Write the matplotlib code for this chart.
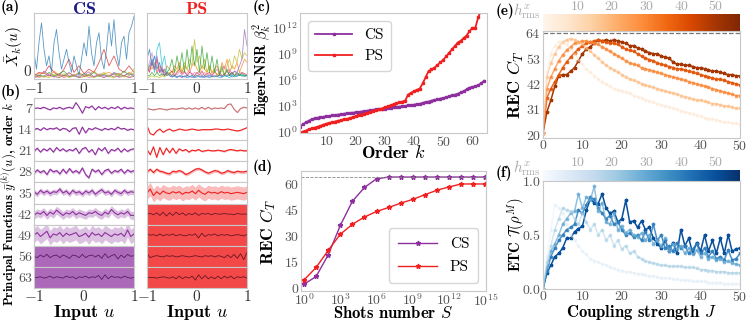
import numpy as np
import matplotlib
matplotlib.use("Agg")
import matplotlib.pyplot as plt
from matplotlib import colors
from matplotlib.cm import ScalarMappable

# ---------------- data ----------------
# (a) squared principal functions, CS and PS
xa41 = np.linspace(-1, 1, 41)
xa21 = np.linspace(-1, 1, 21)
cs_blue = [0.40, 0.15, 0.55, 0.85, 0.45, 0.20, 0.35, 0.10, 0.55, 0.75, 0.40, 0.15, 0.30, 0.45, 0.25, 0.10,
           0.35, 0.20, 0.05, 0.30, 0.55, 0.35, 0.80, 0.40, 0.20, 0.55, 0.70, 0.30, 0.15, 0.45, 0.85, 0.50,
           0.90, 0.40, 0.20, 0.55, 0.65, 0.30, 0.70, 0.80, 0.95]
cs_red = [0.05, 0.10, 0.08, 0.20, 0.10, 0.05, 0.15, 0.30, 0.10, 0.20, 0.08, 0.15, 0.10, 0.25, 0.45, 0.20,
          0.35, 0.15, 0.10, 0.20, 0.10]
cs_orange = [0.05, 0.08, 0.10, 0.04, 0.12, 0.06, 0.03, 0.09, 0.05, 0.10, 0.04, 0.07, 0.12, 0.05, 0.08, 0.10,
             0.06, 0.09, 0.04, 0.10, 0.06]
cs_green = [0.03, 0.06, 0.04, 0.10, 0.05, 0.08, 0.12, 0.04, 0.06, 0.03, 0.08, 0.05, 0.10, 0.04, 0.07, 0.03,
            0.09, 0.05, 0.12, 0.06, 0.08]
cs_purple = [0.08, 0.04, 0.12, 0.06, 0.03, 0.07, 0.05, 0.10, 0.04, 0.08, 0.06, 0.11, 0.03, 0.07, 0.05, 0.04,
             0.10, 0.07, 0.05, 0.09, 0.04]
cs_brown = [0.02, 0.05, 0.03, 0.06, 0.04, 0.02, 0.06, 0.03, 0.05, 0.02, 0.04, 0.06, 0.03, 0.05, 0.02, 0.06,
            0.03, 0.04, 0.05, 0.02, 0.04]
cs_pink = [0.04, 0.02, 0.05, 0.08, 0.03, 0.06, 0.02, 0.05, 0.07, 0.03, 0.06, 0.02, 0.04, 0.08, 0.03, 0.05,
           0.07, 0.02, 0.05, 0.03, 0.06]
cs_olive = [0.06, 0.03, 0.04, 0.02, 0.07, 0.04, 0.08, 0.02, 0.05, 0.09, 0.03, 0.05, 0.02, 0.06, 0.10, 0.04,
            0.02, 0.08, 0.03, 0.05, 0.15]

ps_green = [0.05, 0.05, 0.10, 0.05, 0.10, 0.05, 0.08, 0.05, 0.10, 0.15, 0.30, 0.10, 0.35, 0.15, 0.40, 0.10,
            0.45, 0.15, 0.50, 0.20, 0.45, 0.10, 0.50, 0.15, 0.40, 0.10, 0.35, 0.10, 0.30, 0.05, 0.20, 0.05,
            0.15, 0.05, 0.10, 0.05, 0.10, 0.05, 0.08, 0.05, 0.05]
ps_olive = [0.02, 0.03, 0.05, 0.03, 0.04, 0.02, 0.05, 0.03, 0.06, 0.10, 0.05, 0.15, 0.10, 0.20, 0.10, 0.25,
            0.15, 0.30, 0.20, 0.60, 0.25, 0.35, 0.15, 0.30, 0.10, 0.20, 0.08, 0.15, 0.05, 0.10, 0.15, 0.05,
            0.20, 0.30, 0.15, 0.35, 0.25, 0.45, 0.30, 0.40, 0.35]
ps_purple = [0.10, 0.15, 0.30, 0.15, 0.35, 0.10, 0.20, 0.05, 0.10, 0.05, 0.03, 0.05, 0.03, 0.04, 0.02, 0.05,
             0.03, 0.04, 0.02, 0.03, 0.05, 0.03, 0.04, 0.02, 0.05, 0.03, 0.04, 0.05, 0.03, 0.06, 0.04, 0.08,
             0.05, 0.10, 0.06, 0.12, 0.10, 0.20, 0.30, 0.75, 0.50]
ps_cyan = [0.15, 0.20, 0.30, 0.10, 0.45, 0.55, 0.20, 0.35, 0.10, 0.05, 0.03, 0.04, 0.02, 0.05, 0.03, 0.04,
           0.02, 0.03, 0.05, 0.02, 0.03, 0.04, 0.02, 0.05, 0.03, 0.02, 0.04, 0.03, 0.05, 0.02, 0.03, 0.05,
           0.04, 0.02, 0.06, 0.03, 0.05, 0.08, 0.04, 0.06, 0.05]
ps_blue = [0.30, 0.45, 0.20, 0.35, 0.15, 0.25, 0.10, 0.15, 0.05, 0.08, 0.04, 0.06, 0.03, 0.05, 0.04, 0.03,
           0.06, 0.04, 0.05, 0.03, 0.06, 0.04, 0.05, 0.03, 0.04, 0.06, 0.03, 0.05, 0.04, 0.06, 0.03, 0.05,
           0.04, 0.06, 0.03, 0.05, 0.04, 0.06, 0.05, 0.04, 0.05]
ps_orange = [0.10, 0.20, 0.15, 0.25, 0.10, 0.20, 0.15, 0.10, 0.20, 0.15, 0.10, 0.20, 0.15, 0.25, 0.10, 0.20,
             0.15, 0.10, 0.20, 0.25, 0.15, 0.10, 0.20, 0.15, 0.10, 0.20, 0.10, 0.15, 0.20, 0.10, 0.25, 0.15,
             0.30, 0.10, 0.20, 0.15, 0.25, 0.10, 0.20, 0.30, 0.25]
ps_pink = [0.15, 0.25, 0.40, 0.20, 0.10, 0.15, 0.05, 0.10, 0.05, 0.08, 0.05, 0.10, 0.06, 0.12, 0.05, 0.10,
           0.08, 0.15, 0.05, 0.10, 0.08, 0.12, 0.05, 0.10, 0.06, 0.08, 0.05, 0.10, 0.15, 0.08, 0.12, 0.20,
           0.10, 0.15, 0.08, 0.12, 0.05, 0.10, 0.08, 0.06, 0.05]
ps_red = [0.20, 0.10, 0.25, 0.15, 0.30, 0.10, 0.15, 0.05, 0.10, 0.08, 0.12, 0.05, 0.10, 0.15, 0.08, 0.12,
          0.05, 0.10, 0.08, 0.05, 0.10, 0.06, 0.12, 0.05, 0.08, 0.10, 0.05, 0.12, 0.06, 0.10, 0.05, 0.08,
          0.12, 0.06, 0.10, 0.05, 0.08, 0.06, 0.10, 0.08, 0.06]

# (b) principal functions for orders k
orders = [7, 14, 21, 28, 35, 42, 49, 56, 63]
xb = np.linspace(-1, 1, 32)
cs_rows = [
    [0.0, 0.05, 0.0, 0.1, 0.0, -0.1, 0.05, 0.0, 0.1, -0.05, 0.05, 0.1, 0.0, 0.45, 0.1, -0.35, 0.15, 0.05, 0.2, -0.1, 0.15, 0.0, 0.1, -0.05, 0.1, 0.0, 0.15, -0.05, 0.1, 0.0, 0.05, 0.0],
    [0.0, 0.1, -0.05, 0.15, 0.0, 0.1, 0.05, 0.15, -0.05, 0.1, 0.05, -0.15, 0.1, 0.15, -0.35, 0.2, -0.25, 0.1, 0.0, 0.15, 0.05, -0.05, 0.1, 0.0, 0.1, 0.0, 0.2, 0.05, 0.1, -0.05, 0.05, 0.0],
    [-0.05, 0.2, -0.1, 0.15, 0.0, 0.2, -0.1, 0.25, 0.0, 0.15, -0.05, 0.1, 0.0, 0.2, -0.2, 0.15, 0.25, -0.1, 0.1, -0.3, 0.2, 0.0, 0.25, -0.2, 0.1, 0.0, 0.2, -0.1, 0.15, -0.05, 0.1, 0.15],
    [-0.1, 0.15, -0.05, 0.1, -0.2, 0.2, 0.0, 0.1, -0.15, 0.2, -0.1, 0.25, -0.05, 0.1, -0.1, 0.3, -0.2, -0.45, 0.2, 0.0, 0.15, -0.2, 0.1, 0.2, -0.1, 0.1, 0.0, 0.2, -0.1, 0.15, 0.0, 0.1],
    [0.1, -0.1, 0.2, 0.0, 0.15, -0.05, 0.1, 0.05, 0.3, 0.0, 0.15, -0.1, 0.2, 0.0, 0.1, -0.1, 0.15, 0.0, 0.2, -0.1, 0.1, 0.25, 0.0, 0.1, -0.1, 0.2, 0.05, -0.05, 0.2, 0.0, 0.1, 0.05],
    [-0.1, 0.1, 0.0, 0.2, -0.1, 0.15, 0.0, 0.3, 0.1, -0.1, 0.1, 0.0, 0.2, -0.05, 0.1, 0.0, -0.1, 0.1, 0.05, 0.2, 0.0, -0.1, 0.15, 0.0, 0.35, 0.1, -0.05, 0.1, 0.0, 0.2, -0.1, -0.1],
    [0.0, 0.2, -0.1, 0.1, 0.3, -0.2, 0.1, 0.0, 0.2, -0.1, 0.15, 0.0, 0.1, 0.2, -0.1, 0.0, 0.15, -0.15, 0.2, 0.0, 0.1, -0.1, 0.2, 0.05, -0.1, 0.1, 0.0, 0.15, -0.1, 0.4, -0.1, 0.1],
    [0.0, -0.1, 0.1, -0.05, 0.15, -0.1, 0.05, 0.1, -0.1, 0.1, 0.0, -0.15, 0.1, 0.05, -0.1, 0.15, -0.1, 0.05, 0.1, -0.05, 0.1, -0.15, 0.2, -0.1, 0.05, 0.15, -0.2, 0.1, -0.1, 0.15, 0.0, 0.05],
    [0.0, 0.0, 0.05, -0.05, 0.0, 0.1, -0.05, 0.05, 0.0, -0.05, 0.1, 0.0, 0.05, -0.1, 0.05, 0.0, 0.1, -0.05, 0.05, 0.0, 0.15, -0.15, 0.2, -0.1, 0.1, 0.0, 0.05, -0.05, 0.1, 0.0, -0.05, 0.0],
]
ps_rows = [
    [0.0, -0.05, -0.1, -0.05, 0.0, -0.05, -0.1, -0.05, 0.0, -0.05, 0.0, 0.05, -0.05, 0.05, -0.05, 0.05, -0.05, 0.1, -0.05, 0.1, -0.05, 0.05, 0.0, 0.05, 0.0, 0.3, 0.35, -0.05, -0.3, 0.0, 0.1, 0.05],
    [0.3, -0.3, -0.4, -0.1, 0.05, -0.2, -0.05, 0.05, -0.1, -0.05, 0.05, 0.0, -0.05, 0.0, 0.05, 0.0, -0.05, 0.0, 0.0, 0.0, 0.0, 0.05, 0.05, 0.0, 0.0, 0.05, 0.0, -0.05, -0.1, -0.05, 0.05, 0.15],
    [0.1, -0.3, 0.3, -0.5, 0.25, -0.3, 0.2, -0.15, 0.2, -0.2, 0.15, 0.0, 0.1, -0.1, 0.05, 0.0, 0.1, -0.05, 0.0, 0.05, 0.0, 0.0, 0.05, 0.0, -0.05, 0.05, 0.1, 0.05, 0.0, 0.05, 0.0, 0.0],
    [0.0, 0.2, -0.05, 0.2, 0.05, 0.0, -0.1, -0.15, 0.05, 0.0, 0.1, 0.0, -0.2, -0.1, 0.05, 0.2, 0.25, 0.15, 0.0, -0.1, 0.0, 0.1, 0.05, -0.1, -0.05, 0.1, 0.0, -0.05, 0.05, 0.0, 0.0, 0.05],
    [0.0, 0.3, -0.2, 0.1, -0.1, 0.15, 0.0, -0.05, 0.1, 0.0, 0.1, -0.1, 0.05, 0.0, 0.15, -0.05, 0.2, 0.0, -0.1, 0.1, 0.0, 0.05, -0.05, 0.1, 0.0, 0.05, -0.05, 0.0, 0.05, 0.0, -0.05, 0.05],
    [0.0, 0.05, -0.05, 0.1, -0.1, 0.15, -0.15, 0.1, -0.1, 0.15, -0.05, 0.1, -0.1, 0.05, -0.05, 0.1, -0.1, 0.05, 0.0, 0.05, -0.05, 0.05, 0.0, 0.0, 0.05, 0.0, 0.0, -0.05, 0.05, 0.0, 0.0, 0.0],
    [0.1, 0.0, 0.05, -0.05, 0.1, -0.05, 0.05, 0.0, 0.1, -0.05, 0.05, 0.0, -0.05, 0.05, 0.0, 0.1, -0.2, 0.15, -0.1, 0.05, 0.0, 0.1, -0.05, 0.05, 0.0, 0.05, -0.05, 0.0, 0.05, 0.0, -0.05, 0.05],
    [0.2, -0.1, 0.0, 0.05, 0.0, -0.05, 0.05, 0.0, 0.05, -0.05, 0.0, 0.05, 0.0, -0.05, 0.0, 0.05, 0.0, -0.05, 0.05, 0.0, 0.05, -0.05, 0.05, 0.0, -0.1, 0.1, -0.1, 0.15, -0.15, 0.2, -0.25, 0.3],
    [0.0, 0.0, 0.0, -0.05, 0.0, 0.05, 0.0, -0.05, 0.05, -0.1, 0.1, -0.1, 0.05, -0.05, 0.1, -0.2, 0.2, -0.1, 0.15, -0.1, 0.05, -0.1, 0.1, -0.1, 0.1, -0.05, 0.1, -0.1, 0.05, 0.0, 0.05, -0.05],
]
cs_spread = [0.04, 0.05, 0.07, 0.12, 0.2, 0.3, 0.55, 1.0, 1.0]
ps_spread = [0.02, 0.03, 0.06, 0.12, 0.5, 1.0, 1.0, 1.0, 1.0]

# (c) eigen noise-to-signal ratios (log10)
order_k = np.arange(1, 65)
nsr_cs_log = [0.6, 0.9, 1.1, 1.3, 1.45, 1.55, 1.65, 1.7, 1.75, 1.8, 1.85, 1.9, 1.95, 2.0, 2.05, 2.1,
              2.15, 2.2, 2.22, 2.25, 2.3, 2.35, 2.4, 2.45, 2.5, 2.55, 2.6, 2.62, 2.65, 2.7, 2.75, 2.8,
              2.85, 2.9, 2.92, 2.95, 3.0, 3.05, 3.1, 3.15, 3.2, 3.25, 3.35, 3.45, 3.5, 3.6, 3.7, 3.75,
              3.85, 3.9, 4.0, 4.1, 4.2, 4.3, 4.4, 4.55, 4.7, 4.9, 5.1, 5.2, 5.25, 5.4, 5.6, 5.9]
nsr_ps_log = [-0.1, 0.05, 0.15, 0.3, 0.4, 0.5, 0.6, 0.7, 0.85, 0.95, 1.05, 1.1, 1.2, 1.3, 1.35, 1.45,
              1.5, 1.6, 1.7, 1.8, 1.9, 2.0, 2.1, 2.2, 2.3, 2.4, 2.5, 2.6, 2.7, 2.85, 2.95, 3.05,
              3.2, 3.3, 3.4, 3.5, 3.6, 4.3, 4.5, 4.7, 4.85, 5.0, 5.6, 6.3, 7.0, 7.2, 7.4, 7.7,
              8.0, 8.3, 8.7, 9.1, 9.5, 9.9, 10.3, 10.5, 10.8, 11.1, 11.6, 12.0, 12.0, 13.2, 14.0, 14.8]

# (d) REC vs shots
shots = [1e0, 1e1, 1e2, 1e3, 1e4, 1e5, 1e6, 1e7, 1e8, 1e9, 1e10, 1e11, 1e12, 1e13, 1e14, 1e15]
rec_cs = [2, 6.5, 19, 36, 50, 58, 63, 64, 64, 64, 64, 64, 64, 64, 64, 64]
rec_ps = [4.5, 11.7, 21.6, 30.9, 36.7, 40.9, 44.1, 46.4, 48.9, 51.1, 53.8, 56.4, 58.3, 60, 60, 60]

# (e) REC vs coupling J, for several h_rms
J = np.arange(0, 51)
h_rms = [50, 40, 30, 20, 9]
rec_J = [
    [21, 30, 35, 41, 45.5, 46, 46, 47.5, 49, 52, 55, 57, 58, 59.5, 61, 60.5, 61, 60.5, 61, 60.5, 60, 59.5, 58.5,
     58.5, 57.5, 57, 56, 55.5, 55, 55, 54, 53.5, 53, 51.5, 50.5, 50.5, 50, 50, 49.5, 49, 49, 48.5, 48, 47.5,
     47.5, 47, 46.5, 46, 46, 45.5, 45.5],
    [21, 36, 40, 43, 46, 49, 51.5, 53.5, 55.5, 57, 58.5, 59.5, 60, 60.5, 61, 60.5, 60, 59.5, 59.5, 59, 58, 57,
     56.5, 56, 55, 54, 53, 52.5, 52, 51, 50.5, 50, 49.5, 49, 48.5, 48.5, 48, 47.5, 47, 46.5, 46, 45.5, 45,
     44.5, 44, 44, 43.5, 43, 42.5, 42, 41.5],
    [21, 40, 45, 48.5, 52, 54.5, 56.5, 58, 59.5, 60, 60.5, 60.5, 60, 59.5, 59, 58, 57, 56, 55, 54, 53, 52, 51,
     50.5, 50, 49, 48.5, 48, 47.5, 47, 46.5, 46, 45.5, 45, 44.5, 44, 43.5, 43, 42.5, 42, 41.5, 41, 40.5, 40,
     39.5, 39, 38.5, 38, 37.5, 37, 37],
    [21, 45, 51, 55, 58, 60, 61, 61.5, 61, 60, 59, 57.5, 56, 54.5, 53, 51.5, 50, 49, 48, 47, 46, 45, 44, 43.5,
     43, 42, 41.5, 41, 40.5, 40, 39.5, 39, 38.5, 38, 37.5, 37, 36.5, 36, 35.5, 35, 35, 34.5, 34, 33.5, 33.5,
     33, 32.5, 32.5, 32, 31.5, 31.5],
    [21, 47, 55, 58.5, 60, 60, 59, 57, 55, 52.5, 50.5, 48.5, 47, 45.5, 44, 43, 42, 41, 40, 39.5, 39, 38.5, 38,
     37, 36.5, 36, 35, 34.5, 34, 33.5, 33, 32.5, 32, 31.5, 31, 30.5, 30, 29.5, 29, 28.5, 28, 27.5, 27, 27,
     26.5, 26, 25.5, 25.5, 25, 25, 24.5],
]

# (f) ETC vs coupling J
etc_J = [
    [0.0, 0.15, 0.22, 0.3, 0.33, 0.38, 0.47, 0.47, 0.53, 0.56, 0.58, 0.73, 0.83, 0.8, 0.79, 0.88, 0.75, 0.7,
     0.72, 0.62, 0.65, 0.82, 0.62, 0.63, 0.57, 0.63, 0.55, 0.57, 0.47, 0.42, 0.38, 0.45, 0.35, 0.43, 0.33,
     0.55, 0.4, 0.47, 0.33, 0.43, 0.35, 0.5, 0.35, 0.45, 0.33, 0.47, 0.33, 0.5, 0.35, 0.37, 0.38],
    [0.0, 0.17, 0.3, 0.38, 0.45, 0.5, 0.55, 0.57, 0.6, 0.73, 0.7, 0.78, 0.85, 0.83, 0.75, 0.7, 0.65, 0.68,
     0.6, 0.62, 0.55, 0.5, 0.52, 0.48, 0.5, 0.45, 0.53, 0.45, 0.6, 0.45, 0.5, 0.38, 0.4, 0.35, 0.43, 0.38,
     0.4, 0.33, 0.37, 0.42, 0.33, 0.38, 0.3, 0.35, 0.28, 0.3, 0.27, 0.36, 0.27, 0.28, 0.33],
    [0.0, 0.2, 0.35, 0.42, 0.5, 0.6, 0.65, 0.7, 0.72, 0.88, 0.75, 0.85, 0.82, 0.95, 0.72, 0.8, 0.62, 0.6,
     0.7, 0.55, 0.58, 0.52, 0.55, 0.5, 0.48, 0.52, 0.45, 0.5, 0.42, 0.45, 0.4, 0.47, 0.35, 0.42, 0.37, 0.4,
     0.33, 0.38, 0.32, 0.36, 0.3, 0.33, 0.28, 0.3, 0.27, 0.28, 0.25, 0.26, 0.24, 0.23, 0.22],
    [0.0, 0.25, 0.4, 0.55, 0.65, 0.75, 0.73, 0.72, 0.65, 0.6, 0.7, 0.62, 0.55, 0.6, 0.5, 0.55, 0.45, 0.5,
     0.4, 0.45, 0.37, 0.4, 0.33, 0.35, 0.3, 0.28, 0.26, 0.25, 0.24, 0.23, 0.22, 0.22, 0.21, 0.21, 0.21, 0.21,
     0.2, 0.2, 0.2, 0.19, 0.18, 0.18, 0.17, 0.17, 0.16, 0.16, 0.16, 0.15, 0.15, 0.15, 0.15],
    [0.0, 0.3, 0.55, 0.78, 0.75, 0.7, 0.6, 0.5, 0.45, 0.4, 0.35, 0.32, 0.28, 0.26, 0.25, 0.23, 0.22, 0.2,
     0.19, 0.18, 0.17, 0.16, 0.16, 0.15, 0.14, 0.14, 0.13, 0.12, 0.12, 0.11, 0.1, 0.1, 0.1, 0.09, 0.09, 0.08,
     0.08, 0.08, 0.07, 0.07, 0.07, 0.07, 0.06, 0.06, 0.06, 0.06, 0.05, 0.05, 0.05, 0.05, 0.05],
]
line_alpha = [1.0, 0.85, 0.7, 0.5, 0.3]

# ---------------- style ----------------
plt.rcParams.update({
    'font.family': 'serif', 'font.serif': ['cmr10'], 'mathtext.fontset': 'cm',
    'axes.formatter.use_mathtext': True, 'font.size': 10,
    'axes.edgecolor': '#c8c8c8', 'axes.linewidth': 0.8,
    'xtick.color': '#555555', 'ytick.color': '#555555',
    'xtick.labelsize': 10, 'ytick.labelsize': 10,
    'xtick.major.size': 0, 'ytick.major.size': 0,
    'xtick.minor.size': 0, 'ytick.minor.size': 0,
    'xtick.major.pad': 1.5, 'ytick.major.pad': 1.5,
})
BOLD = 'cmb10'
CS_COL = '#8e2f9e'
PS_COL = '#f02020'

W, H = 748, 321
fig = plt.figure(figsize=(W / 100, H / 100), dpi=100)


def box(l, t, r, b):
    return [l / W, 1 - b / H, (r - l) / W, (b - t) / H]


def ftext(x, y, s, **kw):
    fig.text(x / W, 1 - y / H, s, **kw)


# ---------------- (a) ----------------
for (l, r, curves41, curves21) in [
        (34, 134, [(cs_blue, 'tab:blue')], [(cs_red, 'tab:red'), (cs_orange, 'tab:orange'),
                                            (cs_green, 'tab:green'), (cs_purple, 'tab:purple'),
                                            (cs_brown, 'tab:brown'), (cs_pink, 'tab:pink'),
                                            (cs_olive, 'tab:olive')]),
        (147, 247, [(ps_orange, 'tab:orange'), (ps_red, 'tab:red'), (ps_pink, 'tab:pink'),
                    (ps_blue, 'tab:blue'), (ps_cyan, 'tab:cyan'), (ps_olive, 'tab:olive'),
                    (ps_purple, 'tab:purple'), (ps_green, 'tab:green')], [])]:
    ax = fig.add_axes(box(l, 13, r, 79))
    for vals, c in curves21:
        ax.plot(xa21, vals, color=c, lw=0.6, alpha=0.75)
    for vals, c in curves41:
        ax.plot(xa41, vals, color=c, lw=0.6, alpha=0.75)
    ax.set_xlim(-1, 1)
    ax.set_ylim(0, 1.0)
    ax.set_xticks([-1, 0, 1])
    if l == 34:
        ax.set_yticks([0])
        for t in ax.get_yticklabels():
            t.set_va('bottom')
    else:
        ax.set_yticks([])
    ax.tick_params(colors='#333333', labelsize=11)

# ---------------- (b) ----------------
row_top, row_bot = 98, 288
row_h = (row_bot - row_top) / len(orders)
for col, (l, r, rows, spreads, base) in enumerate([(34, 134, cs_rows, cs_spread, CS_COL),
                                                    (147, 247, ps_rows, ps_spread, PS_COL)]):
    for i, k in enumerate(orders):
        ax = fig.add_axes(box(l, row_top + i * row_h, r, row_top + (i + 1) * row_h))
        y = np.array(rows[i])
        s = spreads[i]
        if s >= 1.0:
            ax.axhspan(-1, 1, color=base, alpha=0.82 if col == 1 else 0.72, lw=0)
            lc = '#5a1020' if col == 1 else '#4a1555'
            ax.plot(xb, y, color=lc, lw=0.6, alpha=0.9)
        else:
            ax.fill_between(xb, y - s, y + s, color=base, alpha=0.3, lw=0)
            lc = base if not (col == 1 and i == 0) else '#c87070'
            ax.plot(xb, y, color=lc, lw=0.8)
        ax.set_xlim(-1, 1)
        ax.set_ylim(-0.8, 0.8)
        if col == 0:
            ax.set_yticks([0])
            ax.set_yticklabels([str(k)])
        else:
            ax.set_yticks([])
        if i == len(orders) - 1:
            ax.set_xticks([-1, 0, 1])
            ax.tick_params(axis='x', colors='#333333', labelsize=11, pad=1)
        else:
            ax.set_xticks([])

# ---------------- (c) ----------------
axc = fig.add_axes(box(300, 13, 487, 133))
axc.plot(order_k, 10 ** np.array(nsr_cs_log), color=CS_COL, lw=1.3, marker='s', ms=1.6, label='CS')
axc.plot(order_k, 10 ** np.array(nsr_ps_log), color=PS_COL, lw=1.3, marker='s', ms=1.6, label='PS')
axc.set_yscale('log')
axc.set_xlim(1, 65)
axc.set_ylim(10 ** -0.12, 10 ** 13.7)
axc.set_yticks([1e0, 1e3, 1e6, 1e9, 1e12])
axc.yaxis.set_minor_locator(matplotlib.ticker.NullLocator())
axc.set_xticks([10, 20, 30, 40, 50, 60])
axc.legend(loc='upper left', fontsize=11, frameon=True, edgecolor='#cccccc', handlelength=2.4,
           borderpad=0.5, labelspacing=0.5)

# ---------------- (d) ----------------
axd = fig.add_axes(box(301, 171, 486, 291))
axd.plot(shots, rec_cs, color=CS_COL, lw=1.0, marker='*', ms=3.5, label='CS')
axd.plot(shots, rec_ps, color=PS_COL, lw=1.0, marker='*', ms=3.5, label='PS')
axd.axhline(64, color='#888888', ls='--', lw=0.6)
axd.set_xscale('log')
axd.set_xlim(10 ** -0.25, 10 ** 15.05)
axd.set_ylim(-1.9, 67.5)
axd.set_xticks([1e0, 1e3, 1e6, 1e9, 1e12, 1e15])
axd.xaxis.set_minor_locator(matplotlib.ticker.NullLocator())
axd.set_yticks([0, 15, 30, 45, 60])
axd.tick_params(axis='x', pad=1)
axd.legend(loc='lower right', fontsize=11, frameon=True, edgecolor='#cccccc', handlelength=2.6,
           borderpad=0.6, labelspacing=0.6)

# ---------------- (e) and (f) ----------------
norm = colors.Normalize(vmin=0, vmax=57)
for (cb_box, ax_box, cmap, data, ylim, yticks) in [
        (box(543, 14, 740, 31), box(543, 31, 740, 138), plt.get_cmap('Oranges'), rec_J, (18.7, 64.8),
         [20, 31, 42, 53, 64]),
        (box(543, 170, 740, 181), box(543, 181, 740, 289), plt.get_cmap('Blues'), etc_J, (0, 1.0),
         [0.0, 0.5, 1.0])]:
    cax = fig.add_axes(cb_box)
    cb = fig.colorbar(ScalarMappable(norm=norm, cmap=cmap), cax=cax, orientation='horizontal')
    cb.outline.set_visible(False)
    cax.xaxis.set_ticks_position('top')
    cb.set_ticks([10, 20, 30, 40, 50])
    cax.tick_params(colors='#aaaaaa', labelsize=10, length=0, pad=1)
    ax = fig.add_axes(ax_box)
    for vals, h, a in zip(data, h_rms, line_alpha):
        ax.plot(J, vals, color=cmap(norm(h)), lw=1.1, marker='*', ms=2.5, alpha=a)
    if cmap.name == 'Oranges':
        ax.axhline(64, color='#777777', ls='--', lw=0.9)
    ax.set_xlim(0, 50)
    ax.set_ylim(*ylim)
    ax.set_yticks(yticks)
    ax.set_xticks([0, 10, 20, 30, 40, 50])
    ax.tick_params(axis='x', pad=1)

# ---------------- text ----------------
ftext(1, 7, '(a)', family=BOLD, fontsize=11, va='center')
ftext(1, 92, '(b)', family=BOLD, fontsize=11, va='center')
ftext(253, 7, '(c)', family=BOLD, fontsize=11, va='center')
ftext(253, 167, '(d)', family=BOLD, fontsize=11, va='center')
ftext(496, 11, '(e)', family=BOLD, fontsize=11, va='center')
ftext(496, 173, '(f)', family=BOLD, fontsize=11, va='center')
ftext(84, 9, 'CS', family=BOLD, fontsize=13, color='#1c1c8c', ha='center', va='center')
ftext(197, 9, 'PS', family=BOLD, fontsize=13, color='#f02020', ha='center', va='center')
ftext(14, 46, r'$\bar{X}_k(u)$', fontsize=11, rotation=90, ha='center', va='center')
ftext(9, 204, r'Principal Functions $\bar{y}^{(k)}(u)$, order $k$', family=BOLD, fontsize=9.3,
      rotation=90, ha='center', va='center')
ftext(84, 312, r'Input $u$', family=BOLD, fontsize=13, ha='center', va='center')
ftext(197, 312, r'Input $u$', family=BOLD, fontsize=13, ha='center', va='center')
ftext(393, 153, r'Order $k$', family=BOLD, fontsize=13, ha='center', va='center')
ftext(262, 70, r'Eigen-NSR $\beta_k^2$', family=BOLD, fontsize=10.5, rotation=90, ha='center',
      va='center')
ftext(268, 232, r'REC $C_T$', family=BOLD, fontsize=12.5, rotation=90, ha='center', va='center')
ftext(393, 313, r'Shots number $S$', family=BOLD, fontsize=12, ha='center', va='center')
ftext(516, 85, r'REC $C_T$', family=BOLD, fontsize=13, rotation=90, ha='center', va='center')
ftext(516, 235, r'ETC $\mathcal{T}(\rho^M)$', family=BOLD, fontsize=10.5, rotation=90, ha='center',
      va='center')
ftext(641, 312, r'Coupling strength $J$', family=BOLD, fontsize=12, ha='center', va='center')
ftext(527, 11, r'$h^x_{\rm rms}$', fontsize=11, color='#aaaaaa', ha='center', va='center')
ftext(527, 168, r'$h^x_{\rm rms}$', fontsize=11, color='#aaaaaa', ha='center', va='center')

fig.savefig('out.png', dpi=100)
